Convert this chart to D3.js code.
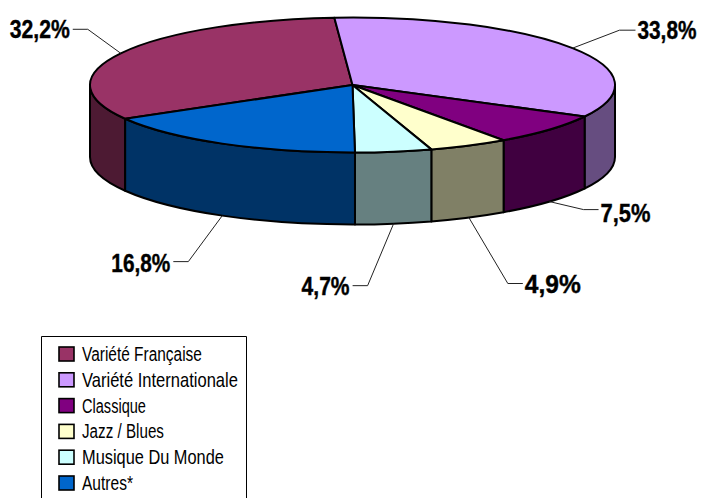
<!DOCTYPE html>
<html><head><meta charset="utf-8">
<script src="https://cdnjs.cloudflare.com/ajax/libs/d3/7.8.5/d3.min.js"></script>
<style>html,body{margin:0;padding:0;background:#fff}svg{display:block}</style></head>
<body><svg id="c" width="701" height="498"></svg>
<script>
const categories = ["Variété Française","Variété Internationale","Classique","Jazz / Blues","Musique Du Monde","Autres*"];
const shares = [32.2,33.8,7.5,4.9,4.7,16.8];
const shareLabels = ["32,2%","33,8%","7,5%","4,9%","4,7%","16,8%"];
const topColors = ["#993366","#CC99FF","#800080","#FFFFCC","#CCFFFF","#0066CC"];
const sideColors = ["#4D1A33","#664D80","#400040","#808066","#668080","#003366"];

const cx=352.5, cy=85, rx=262.5, ry=67.5, depth=72;
const svg=d3.select("#c");
const toRad=d=>d*Math.PI/180;
const sx=d3.scaleLinear().domain([-1,1]).range([cx-rx,cx+rx]);
const sy=d3.scaleLinear().domain([-1,1]).range([cy-ry,cy+ry]);
const pt=(a,dy=0)=>[sx(Math.sin(a)),sy(-Math.cos(a))+dy];
const pie=d3.pie().sort(null).value(d=>d).startAngle(toRad(-120)).endAngle(toRad(240));
const arcs=pie(shares);

function topPath(a){const p=pt(a.startAngle),q=pt(a.endAngle);
  const large=a.endAngle-a.startAngle>Math.PI?1:0;
  return `M${cx},${cy}L${p}A${rx},${ry} 0 ${large} 1 ${q}Z`;}
function sidePath(a0,a1){const p=pt(a0),q=pt(a1),r=pt(a1,depth),s=pt(a0,depth);
  return `M${p}A${rx},${ry} 0 0 1 ${q}L${r}A${rx},${ry} 0 0 0 ${s}Z`;}

// condensed lettering: the text is drawn and then squeezed to the wanted width
function squeeze(sel,x,y,w){
  sel.attr("transform",`translate(${x},${y})`);
  const k=w/sel.node().getComputedTextLength();
  sel.attr("transform",`translate(${x},${y}) scale(${k},1)`);
}

const sides=[];
arcs.forEach((a,i)=>{
  [[toRad(-270),toRad(-90)],[toRad(90),toRad(270)]].forEach(([lo,hi])=>{
    const s=Math.max(a.startAngle,lo),e=Math.min(a.endAngle,hi);
    if(e>s) sides.push({i,s,e});
  });
});
svg.append("g").selectAll("path").data(sides).join("path")
  .attr("d",d=>sidePath(d.s,d.e)).attr("fill",d=>sideColors[d.i])
  .attr("stroke","#000").attr("stroke-width",2).attr("stroke-linejoin","round");
svg.append("g").selectAll("path").data(arcs).join("path")
  .attr("d",topPath).attr("fill",(d,i)=>topColors[i])
  .attr("stroke","#000").attr("stroke-width",2).attr("stroke-linejoin","round");

// leader layout: [elbow dx, elbow dy, run dx, label width, baseline offset]
const leaderShape=[[-33,-24,-15,60,9],[47,-18,16,59,9],[34,8,15,50,12],[39,66,15,56,9],[-26,62,-15,48,9],[-34,46,-15,59,10]];
const onFront=[false,false,true,true,true,true];
const lab=svg.append("g");
arcs.forEach((a,i)=>{
  const m=(a.startAngle+a.endAngle)/2;
  const [x0,y0]=pt(m,onFront[i]?depth:0);
  const [dx,dy,run,w,base]=leaderShape[i];
  const x1=x0+dx,y1=y0+dy,x2=x1+run;
  lab.append("path").attr("d",`M${x0},${y0}L${x1},${y1}L${x2},${y1}`)
    .attr("fill","none").attr("stroke","#222").attr("stroke-width",1);
  const t=lab.append("text")
    .attr("font-family","'Liberation Sans',sans-serif")
    .attr("font-weight","700").attr("font-size",25)
    .attr("stroke","#000").attr("stroke-width",0.4)
    .attr("fill","#000").text(shareLabels[i]);
  squeeze(t,run<0?x2-3-w:x2+2,y1+base,w);
});

const legendWidths=[120,156,64,82,142,51];
const lg=svg.append("g");
lg.append("path").attr("d","M41.5,498V336.5H246.5V498").attr("fill","#fff").attr("stroke","#000").attr("stroke-width",1);
const rowY=d3.scalePoint().domain(categories).range([354,483]);
categories.forEach((c,i)=>{
  const y=rowY(c);
  lg.append("rect").attr("x",59).attr("y",y-7).attr("width",15).attr("height",14)
    .attr("fill",topColors[i]).attr("stroke","#000").attr("stroke-width",1.6);
  const t=lg.append("text")
    .attr("font-family","'Liberation Sans',sans-serif")
    .attr("font-size",21).attr("fill","#000").text(c);
  squeeze(t,82,y+7,legendWidths[i]);
});
</script></body></html>
